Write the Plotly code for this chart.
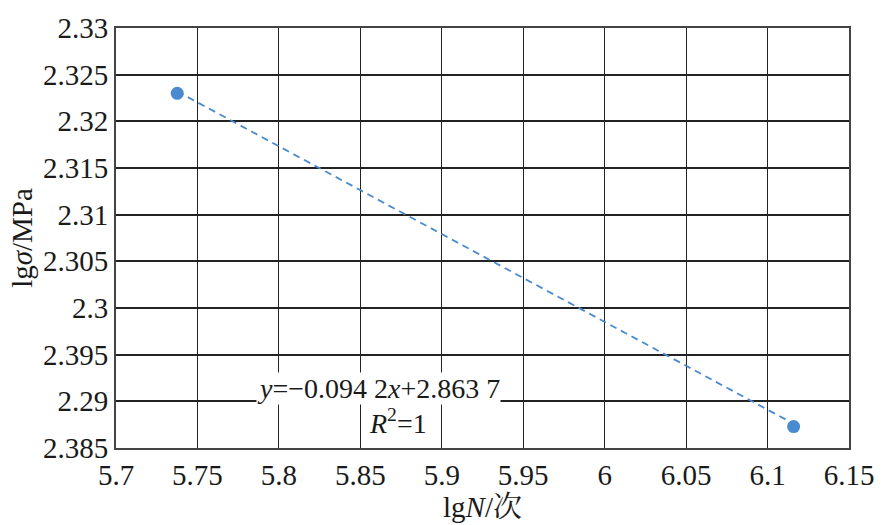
import plotly.graph_objects as go

# data
lgN = [5.7376, 6.116]
lgS = [2.3230, 2.2873]
trend_x = [5.7376, 6.116]
trend_y = [2.3232, 2.2876]

x_ticks = [5.7, 5.75, 5.8, 5.85, 5.9, 5.95, 6.0, 6.05, 6.1, 6.15]
x_ticktext = ["5.7", "5.75", "5.8", "5.85", "5.9", "5.95", "6", "6.05", "6.1", "6.15"]
y_ticks = [2.285, 2.29, 2.295, 2.3, 2.305, 2.31, 2.315, 2.32, 2.325, 2.33]
y_ticktext = ["2.385", "2.29", "2.395", "2.3", "2.305", "2.31", "2.315", "2.32", "2.325", "2.33"]

blue = "#4a8ad0"
font_family = "'Liberation Serif', 'DejaVu Serif', 'Noto Serif CJK SC', serif"

fig = go.Figure()
fig.add_trace(go.Scatter(x=trend_x, y=trend_y, mode="lines",
                         line=dict(color=blue, width=1.8, dash="7px,5px"),
                         showlegend=False, hoverinfo="skip"))
fig.add_trace(go.Scatter(x=lgN, y=lgS, mode="markers",
                         marker=dict(color=blue, size=13),
                         showlegend=False))

fig.add_annotation(x=5.861, y=2.2914, xref="x", yref="y",
                   text="<i>y</i>=−0.094 2<i>x</i>+2.863 7",
                   showarrow=False, bgcolor="white", borderpad=0,
                   font=dict(family=font_family, size=28, color="#1a1a1a"))
fig.add_annotation(x=5.873, y=2.2878, xref="x", yref="y",
                   text="<i>R</i><sup>2</sup>=1",
                   showarrow=False, bgcolor="white", borderpad=0,
                   font=dict(family=font_family, size=28, color="#1a1a1a"))

fig.update_layout(
    width=886, height=525,
    margin=dict(l=116, r=32, t=16, b=74),
    paper_bgcolor="white", plot_bgcolor="white",
    font=dict(family=font_family, size=29, color="#1a1a1a"),
    xaxis=dict(range=[5.7, 6.15], tickvals=x_ticks, ticktext=x_ticktext,
               showgrid=True, gridcolor="#222", gridwidth=1.2,
               showline=True, linecolor="#444", linewidth=2, mirror=True,
               ticks="", zeroline=False, tickfont=dict(family=font_family, size=29),
               title=dict(text="lg<i>N</i>/次", standoff=2,
                          font=dict(family=font_family, size=29))),
    yaxis=dict(range=[2.285, 2.33], tickvals=y_ticks, ticktext=y_ticktext,
               showgrid=True, gridcolor="#222", gridwidth=1.5,
               showline=True, linecolor="#444", linewidth=2, mirror=True,
               ticks="", zeroline=False, tickfont=dict(family=font_family, size=29),
               title=dict(text="lg<i>σ</i>/MPa", standoff=2,
                          font=dict(family=font_family, size=29))),
)

fig.write_html("out.html")
